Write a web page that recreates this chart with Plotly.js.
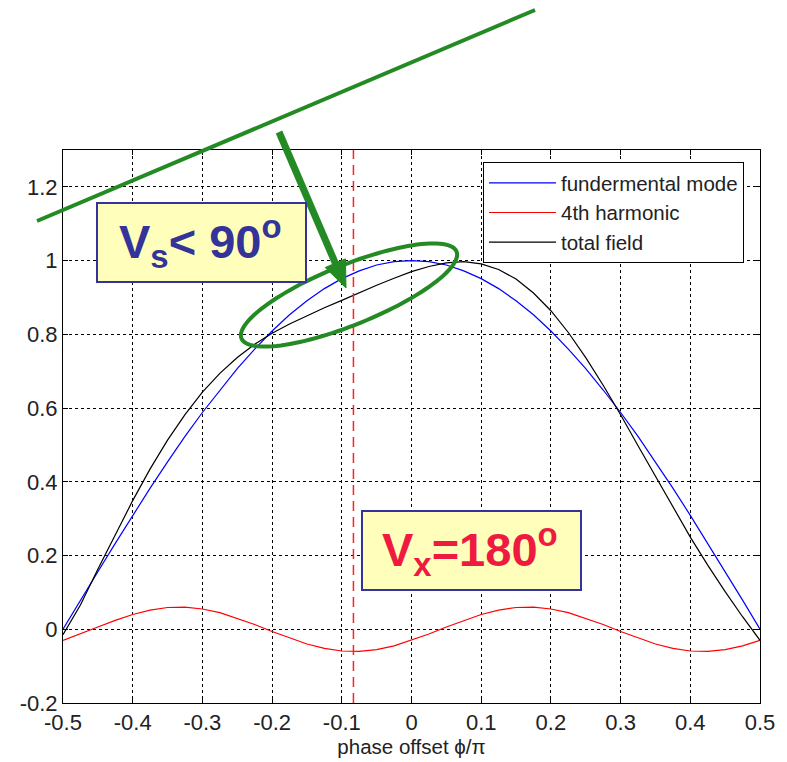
<!DOCTYPE html>
<html>
<head>
<meta charset="utf-8">
<script src="https://cdn.plot.ly/plotly-3.0.1.min.js"></script>
<style>html,body{margin:0;padding:0;background:#fff;}#chart{width:787px;height:762px;}</style>
</head>
<body>
<div id="chart"></div>
<script>
// phase offset phi/pi
const phase = [-0.5,-0.475,-0.45,-0.425,-0.4,-0.375,-0.35,-0.325,-0.3,-0.275,-0.25,-0.225,-0.2,-0.175,-0.15,-0.125,-0.1,-0.075,-0.05,-0.025,0,
  0.025,0.05,0.075,0.1,0.125,0.15,0.175,0.2,0.225,0.25,0.275,0.3,0.325,0.35,0.375,0.4,0.425,0.45,0.475,0.5];
const fundamental = [0,0.079,0.156,0.233,0.309,0.383,0.454,0.523,0.588,0.649,0.707,0.760,0.809,0.853,0.891,0.924,0.951,0.972,0.988,0.997,1.0,
  0.997,0.988,0.972,0.951,0.924,0.891,0.853,0.809,0.760,0.707,0.649,0.588,0.523,0.454,0.383,0.309,0.233,0.156,0.079,0];
const harmonic4 = [-0.030,-0.013,0.006,0.024,0.040,0.052,0.059,0.060,0.055,0.045,0.030,0.013,-0.006,-0.024,-0.040,-0.052,-0.059,-0.060,-0.055,-0.045,-0.030,
  -0.013,0.006,0.024,0.040,0.052,0.059,0.060,0.055,0.045,0.030,0.013,-0.006,-0.024,-0.040,-0.052,-0.059,-0.060,-0.055,-0.045,-0.030];
const totalField = [-0.015,0.066,0.163,0.258,0.349,0.435,0.513,0.582,0.643,0.694,0.737,0.773,0.803,0.828,0.851,0.872,0.892,0.913,0.933,0.952,0.970,
  0.984,0.994,0.997,0.991,0.976,0.950,0.912,0.864,0.805,0.737,0.662,0.582,0.498,0.414,0.331,0.250,0.174,0.102,0.034,-0.030];
const seriesNames = ['fundermental mode','4th harmonic','total field'];
const markerPhase = -0.0833;   // red dashed line (Vx = 180°)
const yLimits = [-0.2, 1.3];
const xTickVals = [-0.5,-0.4,-0.3,-0.2,-0.1,0,0.1,0.2,0.3,0.4,0.5];
const xTickText = ['-0.5','-0.4','-0.3','-0.2','-0.1','0','0.1','0.2','0.3','0.4','0.5'];
const yTickVals = [-0.2,0,0.2,0.4,0.6,0.8,1,1.2];
const yTickText = ['-0.2','0','0.2','0.4','0.6','0.8','1','1.2'];

// ---- layout helpers (pixel -> paper) ----
const L = 63, R = 27, T = 150, B = 59, W = 787, H = 762;
const PW = W - L - R, PH = H - T - B;
const px = x => (x - L) / PW;
const py = y => (H - B - y) / PH;
const GREEN = '#248a24';

function ellipsePath(cx, cy, a, b, deg, n) {
  const th = deg * Math.PI / 180;
  let d = '';
  for (let i = 0; i <= n; i++) {
    const t = 2 * Math.PI * i / n;
    const ex = a * Math.cos(t), ey = b * Math.sin(t);
    const X = cx + ex * Math.cos(th) - ey * Math.sin(th);
    const Y = cy + ex * Math.sin(th) + ey * Math.cos(th);
    d += (i === 0 ? 'M ' : ' L ') + px(X).toFixed(5) + ' ' + py(Y).toFixed(5);
  }
  return d + ' Z';
}

// arrow geometry
const aStart = [279, 132], aTip = [346, 288];
const dx = aTip[0] - aStart[0], dy = aTip[1] - aStart[1];
const len = Math.hypot(dx, dy), ux = dx / len, uy = dy / len;
const nx = uy, ny = -ux, headLen = 27, headHalf = 11;
const baseC = [aTip[0] - headLen * ux, aTip[1] - headLen * uy];
const hp1 = [baseC[0] + headHalf * nx, baseC[1] + headHalf * ny];
const hp2 = [baseC[0] - headHalf * nx, baseC[1] - headHalf * ny];

const font = 'Liberation Sans, Arial, Helvetica, sans-serif';

const traces = [
  {x: phase, y: fundamental, name: seriesNames[0], mode: 'lines', line: {color: '#0000ff', width: 1.2}, legendgroup: 'a'},
  {x: phase, y: harmonic4, name: seriesNames[1], mode: 'lines', line: {color: '#ff0000', width: 1.2}, legendgroup: 'b'},
  {x: phase, y: totalField, name: seriesNames[2], mode: 'lines', line: {color: '#000000', width: 1.2}, legendgroup: 'c'},
  {x: [markerPhase, markerPhase], y: yLimits, mode: 'lines', showlegend: false, hoverinfo: 'skip',
   line: {color: '#ff2020', width: 1.5, dash: '10px,6px'}}
];

const axisCommon = {
  showline: true, linecolor: '#000', linewidth: 1, mirror: 'ticks',
  ticks: 'inside', ticklen: 5, tickcolor: '#000', tickwidth: 1,
  showgrid: true, gridcolor: '#000', gridwidth: 1, griddash: '3px,3px',
  zeroline: false, tickfont: {family: font, size: 22, color: '#222'}
};

const layout = {
  width: W, height: H,
  margin: {l: L, r: R, t: T, b: B},
  paper_bgcolor: '#fff', plot_bgcolor: '#fff',
  showlegend: true,
  xaxis: Object.assign({}, axisCommon, {
    range: [-0.5, 0.5], tickmode: 'array', tickvals: xTickVals, ticktext: xTickText,
    title: {text: 'phase offset ϕ/π', font: {family: font, size: 20.5, color: '#222'}, standoff: 5}
  }),
  yaxis: Object.assign({}, axisCommon, {
    range: yLimits, tickmode: 'array', tickvals: yTickVals, ticktext: yTickText
  }),
  legend: {
    x: px(483), y: py(162), xanchor: 'left', yanchor: 'top',
    bgcolor: '#fff', bordercolor: '#000', borderwidth: 1, itemwidth: 67,
    font: {family: font, size: 20.5, color: '#222'}, tracegroupgap: 0
  },
  shapes: [
    {type: 'line', xref: 'paper', yref: 'paper', x0: px(37), y0: py(221), x1: px(535), y1: py(10),
     line: {color: GREEN, width: 4}},
    {type: 'line', xref: 'paper', yref: 'paper', x0: px(aStart[0]), y0: py(aStart[1]), x1: px(baseC[0] + 2 * ux), y1: py(baseC[1] + 2 * uy),
     line: {color: GREEN, width: 7}},
    {type: 'path', xref: 'paper', yref: 'paper',
     path: 'M ' + px(aTip[0]) + ' ' + py(aTip[1]) + ' L ' + px(hp1[0]) + ' ' + py(hp1[1]) + ' L ' + px(hp2[0]) + ' ' + py(hp2[1]) + ' Z',
     fillcolor: GREEN, line: {color: GREEN, width: 1}},
    {type: 'path', xref: 'paper', yref: 'paper', path: ellipsePath(349, 295, 116, 30, -22, 120),
     line: {color: GREEN, width: 4}},
    {type: 'rect', xref: 'paper', yref: 'paper', x0: px(97), y0: py(203), x1: px(306), y1: py(282),
     fillcolor: '#ffffbb', line: {color: '#333399', width: 2}},
    {type: 'rect', xref: 'paper', yref: 'paper', x0: px(362), y0: py(511), x1: px(581), y1: py(590),
     fillcolor: '#ffffbb', line: {color: '#333399', width: 2}}
  ],
  annotations: [
    {xref: 'paper', yref: 'paper', x: px(200), y: py(241), xanchor: 'center', yanchor: 'middle', showarrow: false,
     text: '<b>V<sub>s</sub>< 90<sup>o</sup></b>', font: {family: font, size: 47, color: '#333399'}},
    {xref: 'paper', yref: 'paper', x: px(470), y: py(549), xanchor: 'center', yanchor: 'middle', showarrow: false,
     text: '<b>V<sub>x</sub>=180<sup>o</sup></b>', font: {family: font, size: 47, color: '#ee1a40'}}
  ]
};

Plotly.newPlot('chart', traces, layout, {staticPlot: true, displayModeBar: false});
</script>
</body>
</html>
